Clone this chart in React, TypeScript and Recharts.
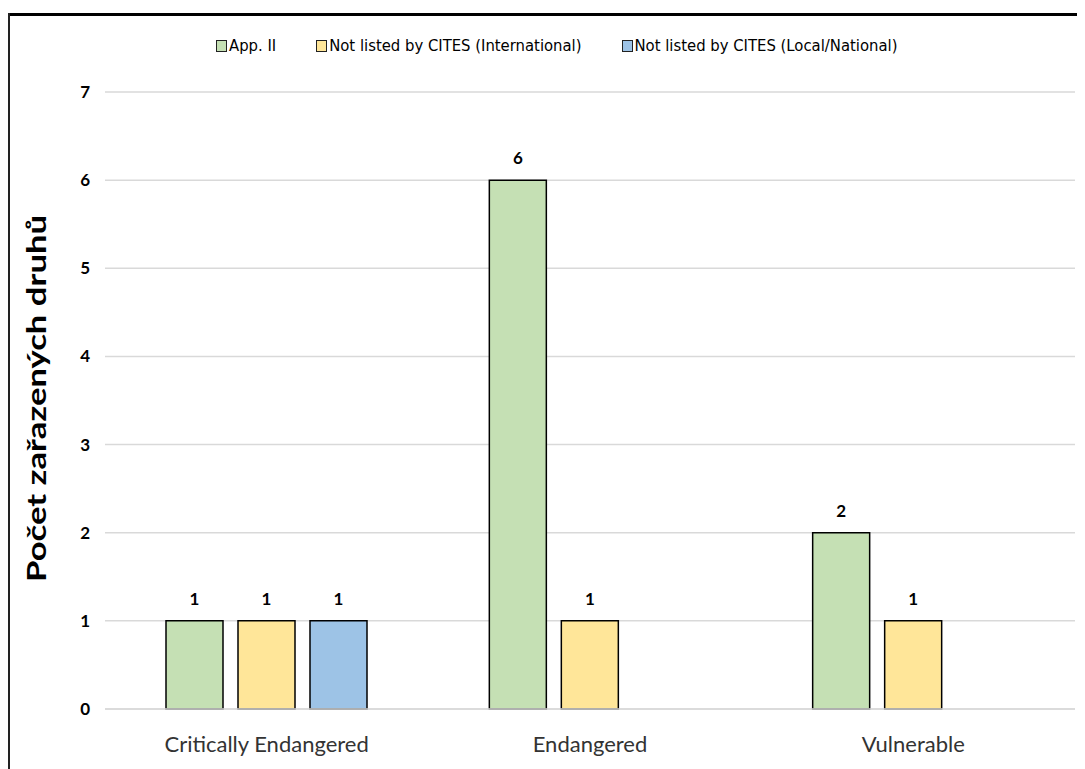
import React from "react"
import { Bar, BarChart, CartesianGrid, LabelList, Legend, XAxis, YAxis } from "recharts"

const categories = ["Critically Endangered", "Endangered", "Vulnerable"]
const appII = [1, 6, 2]
const notListedIntl = [1, 1, 1]
const notListedLocal = [1, null, null]
const yTicks = [0, 1, 2, 3, 4, 5, 6, 7]

const series = [
  { key: "appII", name: "App. II", color: "#c5e0b4" },
  { key: "intl", name: "Not listed by CITES (International)", color: "#ffe699" },
  { key: "local", name: "Not listed by CITES (Local/National)", color: "#9dc3e6" },
]

const data = categories.map((name, i) => ({
  name,
  appII: appII[i],
  intl: notListedIntl[i],
  local: notListedLocal[i],
}))

const font = "Lato, 'Open Sans', sans-serif"

function LegendBox() {
  return (
    <div
      style={{
        display: "flex",
        gap: 40,
        fontFamily: "'DejaVu Sans Condensed', sans-serif",
        fontSize: 16.5,
        color: "#000",
        paddingLeft: 208,
      }}
    >
      {series.map((s) => (
        <div key={s.key} style={{ display: "flex", alignItems: "center", gap: 2 }}>
          <span
            style={{
              width: 9,
              height: 10,
              background: s.color,
              border: "1.5px solid #222",
              display: "inline-block",
            }}
          />
          <span>{s.name}</span>
        </div>
      ))}
    </div>
  )
}

function YLabel(props: any) {
  const { viewBox } = props
  const cy = viewBox.y + viewBox.height / 2 - 2
  return (
    <text
      x={28}
      y={cy}
      transform={`rotate(-90, 28, ${cy})`}
      textAnchor="middle"
      dominantBaseline="central"
      fontFamily={font}
      fontWeight={700}
      fontSize={26}
      fill="#000"
      textLength={367}
      lengthAdjust="spacingAndGlyphs"
    >
      Počet zařazených druhů
    </text>
  )
}

export default function App() {
  return (
    <div style={{ position: "relative", width: 1077, height: 761 }}>
      <div style={{ position: "absolute", left: 0, top: 5, width: 1077, height: 3, background: "#000" }} />
      <div style={{ position: "absolute", left: 0, top: 5, width: 2, height: 756, background: "#222" }} />
      <BarChart
        width={1077}
        height={761}
        data={data}
        margin={{ top: 28, right: 10, bottom: 10, left: 0 }}
        barSize={57}
        barGap={15}
      >
        <CartesianGrid vertical={false} stroke="#d9d9d9" strokeWidth={1.5} />
        <Legend verticalAlign="top" height={56} content={() => <LegendBox />} />
        <XAxis
          dataKey="name"
          tickLine={false}
          tickSize={0}
          tickMargin={27}
          height={50}
          axisLine={{ stroke: "#d9d9d9", strokeWidth: 1.5 }}
          tick={{ fontFamily: font, fontSize: 22, fill: "#333" }}
        />
        <YAxis
          width={97}
          domain={[0, 7]}
          ticks={yTicks}
          tickLine={false}
          axisLine={false}
          tickSize={0}
          tickMargin={15}
          tick={{ fontFamily: font, fontSize: 17, fontWeight: 700, fill: "#000" }}
          label={<YLabel />}
        />
        {series.map((s) => (
          <Bar
            key={s.key}
            dataKey={s.key}
            name={s.name}
            fill={s.color}
            stroke="#000"
            strokeWidth={1.5}
            isAnimationActive={false}
          >
            <LabelList
              dataKey={s.key}
              position="top"
              offset={16}
              style={{ fontFamily: font, fontSize: 17, fontWeight: 700, fill: "#000" }}
            />
          </Bar>
        ))}
      </BarChart>
    </div>
  )
}
